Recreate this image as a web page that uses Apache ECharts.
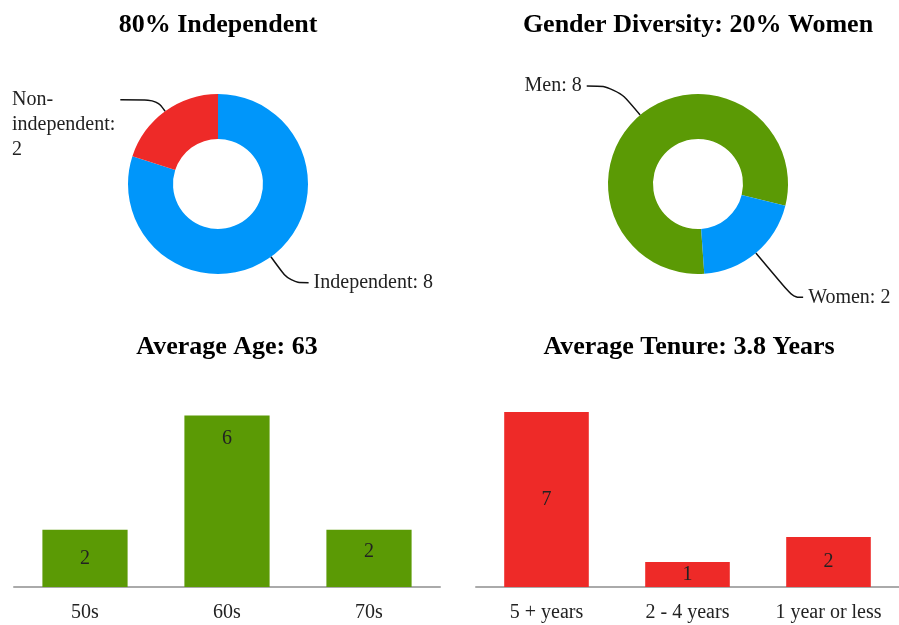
<!DOCTYPE html>
<html>
<head>
<meta charset="utf-8">
<title>Board Composition</title>
<script src="https://cdn.jsdelivr.net/npm/echarts@6/dist/echarts.min.js"></script>
<style>
  html, body { margin: 0; padding: 0; background: #fff; }
  #chart { width: 899px; height: 625px; }
</style>
</head>
<body>
<div id="chart"></div>
<script>
  // donut data
  const independenceNames = ['Independent', 'Non-independent'];
  const independenceValues = [8, 2];
  const genderNames = ['Men', 'Women'];
  const genderValues = [8, 2];

  // bar data
  const ageCategories = ['50s', '60s', '70s'];
  const ageValues = [2, 6, 2];
  const tenureCategories = ['5 + years', '2 - 4 years', '1 year or less'];
  const tenureValues = [7, 1, 2];

  const titles = ['80% Independent', 'Gender Diversity: 20% Women', 'Average Age: 63', 'Average Tenure: 3.8 Years'];

  const BLUE = '#0096fa';
  const RED = '#ee2a28';
  const GREEN = '#5b9a05';
  const SERIF = '"Liberation Serif", "Times New Roman", serif';

  const chart = echarts.init(document.getElementById('chart'));

  const titleStyle = { fontFamily: SERIF, fontWeight: 'bold', fontSize: 26, color: '#000' };
  const labelText = { fontFamily: SERIF, fontSize: 20, color: '#222' };

  const pieLabelFmt = p => p.name + ': ' + p.value;
  // long hyphenated name wraps like the original: "Non-" / "independent:" / "2",
  // two blank lines on top push the block below the end of its leader line
  const wrappedFmt = p => '\n\n' + p.name.replace('-', '-\n') + ':\n' + p.value;

  const option = {
    animation: false,
    title: [
      { text: titles[0], left: 218, top: 12, textAlign: 'center', padding: 0, textStyle: titleStyle },
      { text: titles[1], left: 698, top: 12, textAlign: 'center', padding: 0, textStyle: titleStyle },
      { text: titles[2], left: 227, top: 334, textAlign: 'center', padding: 0, textStyle: titleStyle },
      { text: titles[3], left: 689, top: 334, textAlign: 'center', padding: 0, textStyle: titleStyle }
    ],
    grid: [
      { left: 14, top: 387, width: 426, height: 200 },
      { left: 476, top: 387, width: 426, height: 200 }
    ],
    xAxis: [0, 1].map(i => ({
      type: 'category',
      gridIndex: i,
      data: i === 0 ? ageCategories : tenureCategories,
      axisTick: { show: false },
      axisLine: { lineStyle: { color: '#aaa', width: 2 } },
      axisLabel: Object.assign({ margin: 16 }, labelText)
    })),
    yAxis: [
      { type: 'value', gridIndex: 0, min: 0, max: 7, show: false },
      { type: 'value', gridIndex: 1, min: 0, max: 8, show: false }
    ],
    series: [
      {
        type: 'pie',
        left: 0, top: 0, width: 449, height: 312,
        center: [218, 184],
        radius: [45, 90],
        startAngle: 90,
        label: Object.assign({
          formatter: pieLabelFmt,
          alignTo: 'edge',
          edgeDistance: 14,
          lineHeight: 25,
          overflow: 'none'
        }, labelText),
        labelLine: { smooth: 0.4, lineStyle: { color: '#111', width: 1.5 } },
        data: independenceNames.map((n, i) => ({
          name: n,
          value: independenceValues[i],
          itemStyle: { color: i === 0 ? BLUE : RED },
          labelLine: i === 0 ? { length: 32, length2: 10 } : { length: 14, length2: 8 },
          label: i === 0 ? { edgeDistance: 16 } : { edgeDistance: 12, formatter: wrappedFmt }
        }))
      },
      {
        type: 'pie',
        left: 450, top: 0, width: 449, height: 312,
        center: [248, 184],
        radius: [45, 90],
        startAngle: 274,
        label: Object.assign({ formatter: pieLabelFmt, overflow: 'none' }, labelText),
        labelLine: { smooth: 0.4, lineStyle: { color: '#111', width: 1.5 } },
        data: genderNames.map((n, i) => ({
          name: n,
          value: genderValues[i],
          itemStyle: { color: i === 0 ? GREEN : BLUE },
          labelLine: i === 0 ? { length: 38, length2: 29 } : { length: 58, length2: 10 }
        }))
      },
      {
        type: 'bar',
        xAxisIndex: 0, yAxisIndex: 0,
        barWidth: '60%',
        itemStyle: { color: GREEN },
        label: Object.assign({ show: true, position: 'inside' }, labelText),
        data: ageValues.map((v, i) => ({
          value: v,
          label: i === 1 ? { position: 'insideTop', distance: 13 } : (i === 2 ? { offset: [0, -7] } : {})
        }))
      },
      {
        type: 'bar',
        xAxisIndex: 1, yAxisIndex: 1,
        barWidth: '60%',
        itemStyle: { color: RED },
        label: Object.assign({ show: true, position: 'inside' }, labelText),
        data: tenureValues
      }
    ]
  };

  chart.setOption(option);
</script>
</body>
</html>
